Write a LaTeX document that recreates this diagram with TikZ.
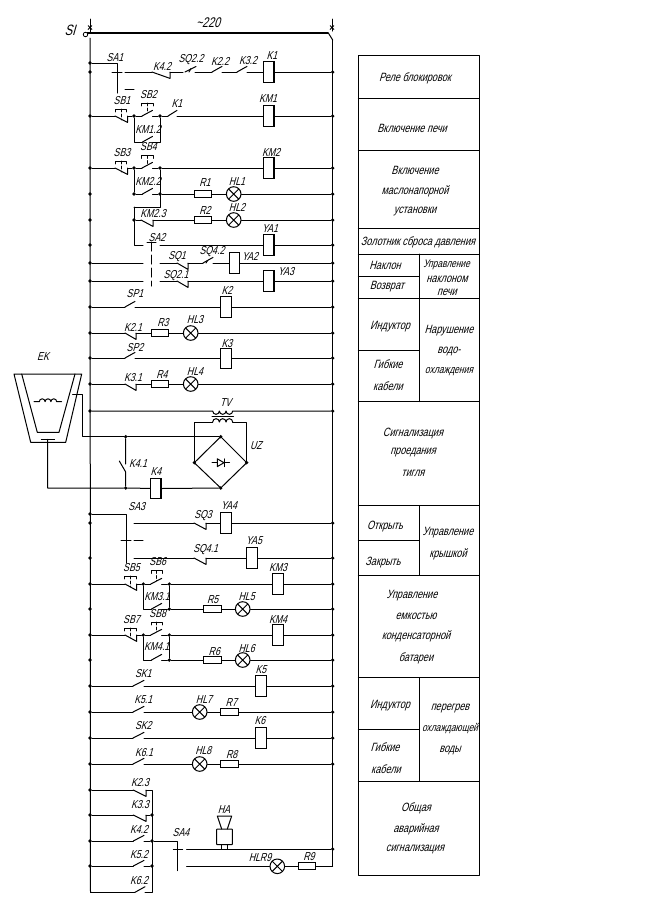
\documentclass[tikz,border=0pt]{standalone}
\usepackage{fontspec}
\setmainfont[FakeSlant=0.28,FakeStretch=0.76]{Liberation Sans}
\newcommand\Rw[1]{\node[jun] (L#1) at (90,#1) {};\node[jun] (R#1) at (332.7,#1) {};}
\newcommand\Jn[3]{\node[jun] (#1) at (#2,#3) {};}
\newcommand\NOc[4]{\coordinate (#1a) at (#2,#4);\coordinate (#1b) at (#3,#4);\draw[wire] (#1a) -- ++(#3-#2,-5.6);}
\newcommand\NCc[4]{\coordinate (#1a) at (#2,#4);\coordinate (#1b) at (#3,#4);\draw[wire] (#1a) -- ++(#3-#2,6.4) -- (#1b);}
\newcommand\Btn[4]{\draw[wire,line width=.7pt] (#1-5.8,#2+3) -- (#1-5.8,#2) -- (#1+5.8,#2) -- (#1+5.8,#2+3);\draw[wire,densely dashed,line width=.6pt] (#1,#2) -- (#1,#3);\node[lbl] (#4) at (#1+1,#2-8.5) {#4};}
\newcommand\Tx[3]{\node[tbl] at (#1,#2) {#3};}
\newcommand\Lb[3]{\node[lbl] at (#1,#2) {#3};}
\tikzset{
 wire/.style={line width=1pt,line cap=round,line join=round},
 jun/.style={circle,fill=black,inner sep=0,minimum size=3.6pt},
 vcoil/.style={draw,line width=1.1pt,fill=white,rectangle,inner sep=0,minimum width=10.6pt,minimum height=20.6pt},
 res/.style={draw,line width=1pt,fill=white,rectangle,inner sep=0,minimum width=17.6pt,minimum height=7pt},
 lamp/.style={circle,draw,line width=1pt,fill=white,inner sep=0,minimum size=14.6pt,path picture={\draw[line width=1pt] (path picture bounding box.north west) -- (path picture bounding box.south east) (path picture bounding box.south west) -- (path picture bounding box.north east);}},
 lbl/.style={font=\fontsize{11.5}{12}\selectfont,inner sep=0},
 tbl/.style={font=\fontsize{12}{13}\selectfont,inner sep=0},
}
\begin{document}
\begin{tikzpicture}[x=1pt,y=-1pt]
\useasboundingbox (0,0) rectangle (653,914);
\fill[white] (0,0) rectangle (653,914);
% rails and bus
\coordinate (busL) at (90,38); \coordinate (busR) at (332.7,40);
\coordinate (botL) at (90.5,892.3); \coordinate (topL) at (90,19); \coordinate (topR) at (332,19);
\draw[wire] (busL) -- (botL);
\node[circle,draw,line width=.8pt,inner sep=0,minimum size=4.5pt] (si) at (85.5,34.5) {};
\draw[wire] (topL) -- (90,32);
\draw[wire] (topR) -- (332,31);
\draw[line width=.8pt] (88,25.5)--(92,29.5) (92,25.5)--(88,29.5) (330,25.5)--(334,29.5) (334,25.5)--(330,29.5);
\draw[line width=1.6pt] (87,33) -- (328,33);
\draw[wire] (328,32.5) -- (busR);
\node[lbl,font=\fontsize{15}{16}\selectfont] (SI) at (70,30) {SI};
\node[lbl,font=\fontsize{14}{15}\selectfont] (u220) at (208,23) {\textasciitilde 220};
\coordinate (railEnd) at (332.7,866.3);
\draw[wire] (busR) -- (railEnd);

% row 1
\Rw{72} \node[jun] (L63) at (90,63) {};
\coordinate (sa1c) at (117,63); \coordinate (sa1d) at (117,93);
\draw[wire] (L63) -- (sa1c) -- (sa1d);
\draw[wire] (112,72) -- (122,72) (125,89) -- (134,89);
\NCc{k42}{152}{170}{72}\coordinate (k42l) at (125,72);
\draw[wire] (k42l) -- (k42a) (k42b) -- (183,72);
\draw[wire] (185,72) -- (196,66.5); \draw[wire] (191,68.5) -- (189,72);
\NOc{k22}{212}{222}{72}\NOc{k32}{237}{247}{72}
\draw[wire] (195,72) -- (k22a) (k22b) -- (k32a) (k32b) -- (263,72);
\node[vcoil] (K1) at (268.7,72) {};
\draw[wire] (K1) -- (R72);
\Lb{115}{58}{SA1}\Lb{162}{66}{K4.2}\Lb{191}{60}{SQ2.2}\Lb{220}{61}{K2.2}\Lb{248}{61}{K3.2}\Lb{272}{56}{K1}

% row KM1
\Rw{116} \Jn{a116}{134}{116}\Jn{b116}{160}{116}
\NCc{sb1}{115}{127.5}{116}\NOc{sb2}{142}{152.5}{116}\NOc{k1}{168}{177}{116}
\draw[wire] (L116) -- (sb1a) (sb1b) -- (a116) -- (sb2a) (sb2b) -- (b116) -- (k1a);
\node[vcoil] (KM1) at (268.7,116) {};
\draw[wire] (k1b) -- (KM1) -- (R116);
\Btn{121}{109}{120}{SB1}\Btn{147.5}{103}{113}{SB2}
\NOc{km12}{142.5}{152.5}{142}
\draw[wire] (a116) |- (km12a) (km12b) -| (b116);
\Lb{148}{129}{KM1.2}\Lb{177}{104}{K1}\Lb{268}{99}{KM1}

% row KM2
\Rw{168}\Jn{a168}{134}{168}\Jn{b168}{160}{168}
\NCc{sb3}{115}{127.5}{168}\NOc{sb4}{142}{152.5}{168}
\draw[wire] (L168) -- (sb3a) (sb3b) -- (a168) -- (sb4a) (sb4b) -- (b168);
\node[vcoil] (KM2) at (268.7,168) {};
\draw[wire] (b168) -- (KM2) -- (R168);
\Btn{121}{161}{172}{SB3}\Btn{147.5}{155.5}{165}{SB4}
\Lb{271}{152}{KM2}
% KM2.2
\Rw{194}\Jn{a194}{134}{194}\Jn{b194}{160}{194}
\NOc{km22}{142.5}{152.5}{194}
\draw[wire] (a168) -- (a194) -- (km22a) (km22b) -- (b194);
\node[res] (R1) at (203,194) {}; \node[lamp] (HL1) at (233.7,194) {};
\draw[wire] (b194) -- (R1) -- (HL1) -- (R194);
\Lb{148}{181}{KM2.2}\Lb{205}{183}{R1}\Lb{237}{182}{HL1}
% KM2.3
\coordinate (c207) at (160,207);\coordinate (d207) at (134,207);
\draw[wire] (b168) -- (c207) -- (d207);
\Rw{220}\Jn{a220}{134}{220}
\NCc{km23}{141}{153}{220}
\draw[wire] (a220) -- (km23a);
\node[res] (R2) at (203,220) {}; \node[lamp] (HL2) at (233.7,220) {};
\draw[wire] (km23b) -- (R2) -- (HL2) -- (R220);
\Lb{153}{214}{KM2.3}\Lb{205}{210}{R2}\Lb{237}{207}{HL2}

% SA2
\Rw{245}
\coordinate (e245) at (134,245);\coordinate (f245) at (143,245);\coordinate (g245) at (160,245);
\draw[wire] (d207) -- (e245) -- (f245);
\draw[wire] (147,242) -- (156,242);
\draw[wire,dash pattern=on 9pt off 4pt] (151.7,242) -- (151.7,286);
\node[vcoil] (YA1) at (268.7,245) {};
\draw[wire] (g245) -- (YA1) -- (R245);
\Lb{157}{238}{SA2}\Lb{270}{229}{YA1}
% 263
\Rw{263}
\coordinate (h263) at (143,263);\coordinate (i263) at (160,263);
\NCc{sq1}{177}{188}{263}\NOc{sq42}{203}{213}{263}
\draw[wire] (207.5,260.6) -- (206,263);
\node[vcoil] (YA2) at (234.5,263) {};
\draw[wire] (L263) -- (h263) (i263) -- (sq1a) (sq1b) -- (sq42a) (sq42b) -- (YA2) -- (R263);
\Lb{177}{257}{SQ1}\Lb{212}{252}{SQ4.2}\Lb{250}{256}{YA2}
% 281
\Rw{281}
\coordinate (h281) at (143,281);\coordinate (i281) at (160,281);
\NCc{sq21}{177}{188}{281}
\node[vcoil] (YA3) at (268.7,281) {};
\draw[wire] (L281) -- (h281) (i281) -- (sq21a) (sq21b) -- (YA3) -- (R281);
\Lb{176}{276}{SQ2.1}\Lb{286}{272}{YA3}
% SP1
\Rw{307}\NOc{sp1}{125}{135}{307}
\node[vcoil] (K2) at (226,307) {};
\draw[wire] (L307) -- (sp1a) (sp1b) -- (K2) -- (R307);
\Lb{135}{294}{SP1}\Lb{227}{290}{K2}
% K2.1
\Rw{333}\NCc{k21}{125}{136}{333}
\node[res] (R3) at (160,333) {};\node[lamp] (HL3) at (190.7,333) {};
\draw[wire] (L333) -- (k21a) (k21b) -- (R3) -- (HL3) -- (R333);
\Lb{133}{327}{K2.1}\Lb{163}{323}{R3}\Lb{195}{320}{HL3}
% SP2
\Rw{358}\NOc{sp2}{125}{135}{358}
\node[vcoil] (K3) at (226,358.5) {};
\draw[wire] (L358) -- (sp2a) (sp2b) -- (K3.west |- sp2b);
\draw[wire] (K3.east |- sp2b) -- (R358);
\Lb{135}{348}{SP2}\Lb{227}{344}{K3}
% K3.1
\Rw{384}\NCc{k31}{125}{136}{384}
\node[res] (R4) at (160,384) {};\node[lamp] (HL4) at (190.7,384) {};
\draw[wire] (L384) -- (k31a) (k31b) -- (R4) -- (HL4) -- (R384);
\Lb{133}{378}{K3.1}\Lb{162}{375}{R4}\Lb{195}{372}{HL4}
% TV
\Rw{411}
\coordinate (tp1) at (212.7,411);\coordinate (tp2) at (232.7,411);
\coordinate (ts1) at (212.7,422);\coordinate (ts2) at (232.7,422);
\draw[wire] (L411) -- (tp1) arc[start angle=180,end angle=360,radius=3.33pt] arc[start angle=180,end angle=360,radius=3.33pt] arc[start angle=180,end angle=360,radius=3.33pt] -- (R411);
\draw[wire] (212,416.3) -- (233.5,416.3);
\draw[wire] (ts1) arc[start angle=180,end angle=0,radius=3.33pt] arc[start angle=180,end angle=0,radius=3.33pt] arc[start angle=180,end angle=0,radius=3.33pt];
\Jn{dT}{220.7}{436.7}\Jn{dL}{194.3}{462.7}\Jn{dR}{246.7}{462.7}\Jn{dB}{220.7}{488}
\draw[wire] (ts1) -| (dL.center) (ts2) -| (dR.center);
\draw[wire] (dT.center) -- (dL.center) -- (dB.center) -- (dR.center) -- cycle;
\draw[wire] (212,462.7) -- (229.5,462.7);
\draw[wire,fill=white] (217.3,458.8) -- (217.3,466.6) -- (224,462.7) -- cycle;
\draw[wire] (224,458.8) -- (224,466.6);
\Lb{225.7}{402.7}{TV}\Lb{256}{446}{UZ}
% crucible
\coordinate (co1) at (14,374);\coordinate (co2) at (81.7,374);\coordinate (co3) at (65.7,442.3);\coordinate (co4) at (30.7,442.3);
\coordinate (ci1) at (21.7,374);\coordinate (ci2) at (37.3,432.3);\coordinate (ci3) at (59,432.3);\coordinate (ci4) at (75,374);
\draw[wire] (co1) -- (co2) -- (co3) -- (co4) -- cycle;
\draw[wire] (ci1) -- (ci2) -- (ci3) -- (ci4);
\draw[wire] (34,401.7) -- (39.3,401.7) arc[start angle=180,end angle=0,radius=2.9pt] arc[start angle=180,end angle=0,radius=2.9pt] arc[start angle=180,end angle=0,radius=2.9pt] -- (61.7,401.7);
\draw[line width=1.2pt] (40.7,439.3) -- (55,439.3);
\Lb{43}{357}{EK}
\coordinate (ek1) at (72.7,394);\coordinate (ek2) at (82.3,394);\coordinate (ek3) at (82.3,436.7);
\coordinate (ek4) at (47.7,439.3);\coordinate (ek5) at (47.7,488);
\Jn{k41t}{125.7}{436.7}\Jn{k41b}{125.7}{488}
\draw[wire] (ek1) -- (ek2) -- (ek3) -- (k41t) -- (dT);
\coordinate (k41u) at (125.7,464);\coordinate (k41v) at (125.7,472);\coordinate (k41w) at (119.3,461);
\draw[wire] (k41t) -- (k41u) (k41w) -- (k41v) -- (k41b);
\node[vcoil] (K4) at (155.7,488.5) {};
\draw[wire] (ek4) -- (ek5) -- (k41b) -- (K4) (K4.east) -- (dB);
\Lb{138}{464}{K4.1}\Lb{156}{472}{K4}
% SA3
\node[jun] (L514) at (90,514) {};
\coordinate (sa3t) at (126,514);\coordinate (sa3b) at (126,563);
\draw[wire] (L514) -- (sa3t) -- (sa3b);
\draw[wire] (121,540) -- (131,540) (134,540) -- (143,540);
\Rw{523}\coordinate (l523) at (134,523);\NCc{sq3}{194}{206}{523}
\node[vcoil] (YA4) at (226,523) {};
\draw[wire] (l523) -- (sq3a) (sq3b) -- (YA4) -- (R523);
\Lb{136.7}{506.7}{SA3}\Lb{203}{516}{SQ3}\Lb{229}{506}{YA4}
\Rw{558}\coordinate (l558) at (134,558);\NCc{sq41}{194}{206}{558}
\node[vcoil] (YA5) at (252,558) {};
\draw[wire] (l558) -- (sq41a) (sq41b) -- (YA5) -- (R558);
\Lb{205.7}{550}{SQ4.1}\Lb{254}{540.7}{YA5}
% KM3
\Rw{584}\Jn{a584}{143.3}{584}\Jn{b584}{169.3}{584}
\NCc{sb5}{125}{136.7}{584}\NOc{sb6}{150.7}{161.7}{584}
\draw[wire] (L584) -- (sb5a) (sb5b) -- (a584) -- (sb6a) (sb6b) -- (b584);
\node[vcoil] (KM3) at (277.8,584) {};
\draw[wire] (b584) -- (KM3) -- (R584);
\Btn{130.5}{576}{587}{SB5}\Btn{156.7}{570.5}{581}{SB6}
\Lb{278}{568}{KM3}
\Rw{609}\Jn{b609}{169.3}{609}\NOc{km31}{151.5}{161.7}{609}
\draw[wire] (a584) |- (km31a) (km31b) -- (b609) -- (b584);
\node[res] (R5) at (212.3,609) {};\node[lamp] (HL5) at (242.7,609) {};
\draw[wire] (b609) -- (R5) -- (HL5) -- (R609);
\Lb{157}{596.7}{KM3.1}\Lb{212.7}{600}{R5}\Lb{246.7}{596.7}{HL5}
% KM4
\Rw{635}\Jn{a635}{143.3}{635}\Jn{b635}{169.3}{635}
\NCc{sb7}{125}{136.7}{635}\NOc{sb8}{150.7}{161.7}{635}
\draw[wire] (L635) -- (sb7a) (sb7b) -- (a635) -- (sb8a) (sb8b) -- (b635);
\node[vcoil] (KM4) at (277.8,635) {};
\draw[wire] (b635) -- (KM4) -- (R635);
\Btn{130.5}{628}{638}{SB7}\Btn{156.7}{622}{632}{SB8}
\Lb{278}{620}{KM4}
\Rw{660}\Jn{b660}{169.3}{660}\NOc{km41}{151.5}{161.7}{660}
\draw[wire] (a635) |- (km41a) (km41b) -- (b660) -- (b635);
\node[res] (R6) at (212.3,660) {};\node[lamp] (HL6) at (242.7,660) {};
\draw[wire] (b660) -- (R6) -- (HL6) -- (R660);
\Lb{156.7}{646.7}{KM4.1}\Lb{214.3}{651.7}{R6}\Lb{246.7}{648.3}{HL6}
% SK1
\Rw{686}\NOc{sk1}{133}{144}{686}
\node[vcoil] (K5) at (260.8,686) {};
\draw[wire] (L686) -- (sk1a) (sk1b) -- (K5) -- (R686);
\Lb{143.3}{674}{SK1}\Lb{261}{670}{K5}
% K5.1
\Rw{712}\NOc{k51}{133}{144}{712}
\node[lamp] (HL7) at (199.7,712) {};\node[res] (R7) at (229.5,712) {};
\draw[wire] (L712) -- (k51a) (k51b) -- (HL7) -- (R7) -- (R712);
\Lb{143.3}{700}{K5.1}\Lb{204}{699.3}{HL7}\Lb{231.3}{702.3}{R7}
% SK2
\Rw{738}\NOc{sk2}{133}{144}{738}
\node[vcoil] (K6) at (260.8,738) {};
\draw[wire] (L738) -- (sk2a) (sk2b) -- (K6) -- (R738);
\Lb{143.3}{726}{SK2}\Lb{260}{721}{K6}
% K6.1
\Rw{764}\NOc{k61}{133}{144}{764}
\node[lamp] (HL8) at (199.7,764) {};\node[res] (R8) at (229.5,764) {};
\draw[wire] (L764) -- (k61a) (k61b) -- (HL8) -- (R8) -- (R764);
\Lb{144}{752.7}{K6.1}\Lb{203.3}{751}{HL8}\Lb{231.7}{754.3}{R8}
% bottom group
\node[jun] (L790) at (90,790) {};\node[jun] (L815) at (90,815) {};\node[jun] (L841) at (90,841) {};\node[jun] (L866) at (90,866) {};
\coordinate (v790) at (152,790);\Jn{v815}{152}{815}\Jn{v841}{152}{841}\Jn{v866}{152}{866}\coordinate (v892) at (152,892.3);
\NCc{k23}{133.3}{146}{790}\NCc{k33}{133.3}{146}{815}\NOc{k42b}{133.3}{144}{841}\NOc{k52}{133.3}{144}{866}\NOc{k62}{135}{145}{892.3}
\draw[wire] (L790) -- (k23a) (k23b) -- (v790) -- (v892) -- (k62b);
\draw[wire] (L815) -- (k33a) (k33b) -- (v815);
\draw[wire] (L841) -- (k42ba) (k42bb) -- (v841);
\draw[wire] (L866) -- (k52a) (k52b) -- (v866);
\draw[wire] (botL) -- (k62a);
\Lb{140}{782.7}{K2.3}\Lb{140}{804.3}{K3.3}\Lb{139}{829}{K4.2}\Lb{139}{855}{K5.2}\Lb{139}{880.7}{K6.2}
% SA4
\coordinate (sa4t) at (177.7,841);\coordinate (sa4b) at (177.7,870.7);
\draw[wire] (v841) -- (sa4t) -- (sa4b);
\draw[wire] (173.3,849) -- (182.7,849);
\node[jun] (R849) at (332.7,849) {};\coordinate (l849) at (186.7,849);
\draw[wire] (l849) -- (R849);
\coordinate (l866) at (186.7,866.3);
\node[lamp] (HL9) at (277.3,866.3) {};\node[res] (R9) at (307,866.3) {};
\draw[wire] (l866) -- (HL9) -- (R9) -- (railEnd);
\node[draw,line width=1pt,rounded corners=.5pt,rectangle,inner sep=0,minimum width=15.6pt,minimum height=15.6pt] (HA) at (224.5,836.8) {};
\draw[wire] (221.7,844.7) -- (221.7,849) (227.3,844.7) -- (227.3,849);
\draw[wire] (221.7,829) -- (217.3,816) -- (231.7,816) -- (227.3,829);
\Lb{224}{809.3}{HA}\Lb{181}{832.7}{SA4}\Lb{260}{857.3}{HLR9}\Lb{309}{856.7}{R9}

% table
\draw[wire] (358.3,55) rectangle (479,875.7);
\foreach \y in {98,150,228,254,298,401.7,505.7,575,677.7,781}{\draw[wire] (358.3,\y) -- (479,\y);}
\draw[wire] (419,254) -- (419,401.7) (419,505.7) -- (419,575) (419,677.7) -- (419,781);
\draw[wire] (358.3,276) -- (419,276) (358.3,350) -- (419,350) (358.3,540) -- (419,540) (358.3,729) -- (419,729);
\Tx{415}{78}{Реле блокировок}\Tx{412}{128}{Включение печи}
\Tx{415}{170.7}{Включение}\Tx{415}{191.7}{маслонапорной}\Tx{415}{212}{установки}
\Tx{418}{242}{Золотник сброса давления}
\Tx{385}{265.7}{Наклон}\Tx{387}{287}{Возврат}
\Tx{446.5}{265}{\fontsize{11}{12}\selectfont Управление}\Tx{447}{279}{наклоном}\Tx{447}{292}{печи}
\Tx{390}{326.7}{Индуктор}\Tx{388}{364}{Гибкие}\Tx{388}{385.7}{кабели}
\Tx{449}{330.7}{Нарушение}\Tx{449}{351.7}{водо-}\Tx{449}{371.7}{\fontsize{11.2}{12}\selectfont охлаждения}
\Tx{413}{433}{Сигнализация}\Tx{413}{453}{проедания}\Tx{413}{473}{тигля}
\Tx{385}{527}{Открыть}\Tx{383}{562.7}{Закрыть}
\Tx{448}{533}{Управление}\Tx{448}{554}{крышкой}
\Tx{412}{595.7}{Управление}\Tx{416}{616.7}{емкостью}\Tx{416}{636.7}{конденсаторной}\Tx{416}{658}{батареи}
\Tx{390}{705.7}{Индуктор}\Tx{385}{747}{Гибкие}\Tx{386}{769}{кабели}
\Tx{450}{709}{перегрев}\Tx{450}{729}{\fontsize{11}{12}\selectfont охлаждающей}\Tx{450}{750}{воды}
\Tx{416}{808}{Общая}\Tx{416}{829}{аварийная}\Tx{415}{849}{сигнализация}
\end{tikzpicture}
\end{document}
